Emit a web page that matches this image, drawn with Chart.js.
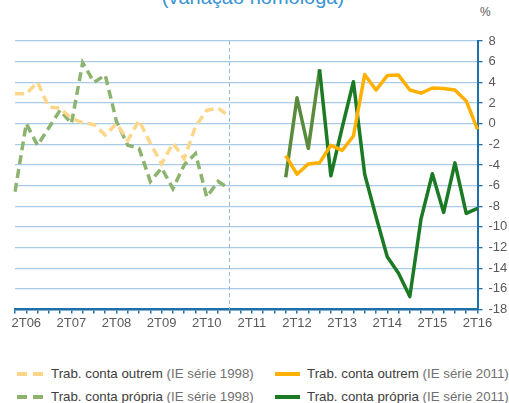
<!DOCTYPE html>
<html>
<head>
<meta charset="utf-8">
<script src="https://cdn.jsdelivr.net/npm/chart.js@4.4.0/dist/chart.umd.min.js"></script>
<style>
  body { margin: 0; width: 509px; height: 403px; overflow: hidden; background: #fff; position: relative;
         font-family: "Liberation Sans", Arial, sans-serif; }
  #title { position: absolute; top: -13px; left: 0; width: 506px; text-align: center;
           font-size: 20px; line-height: 20px; color: #3a94d2; }
  #unit { position: absolute; left: 480px; top: 5px; font-size: 12px; color: #595959; }
  #wrap { position: absolute; left: 0; top: 0; width: 509px; height: 340px; }
  .leg { position: absolute; display: flex; align-items: center; font-size: 13.3px; line-height: 16px; white-space: nowrap; }
  .leg .sym { display: inline-block; height: 4px; margin-right: 8px; }
  .leg .name { color: #3d3d3d; }
  .leg .note { color: #707070; }
</style>
</head>
<body>
<div id="title">(variação homóloga)</div>
<div id="unit">%</div>
<div id="wrap"><canvas id="chart"></canvas></div>
<div id="legend"></div>

<script>
/* Emprego: trabalhadores por conta de outrem / própria */
const quarters = [
  '1T06','2T06','3T06','4T06','1T07','2T07','3T07','4T07','1T08','2T08','3T08','4T08',
  '1T09','2T09','3T09','4T09','1T10','2T10','3T10','4T10','1T11','2T11','3T11','4T11',
  '1T12','2T12','3T12','4T12','1T13','2T13','3T13','4T13','1T14','2T14','3T14','4T14',
  '1T15','2T15','3T15','4T15','1T16','2T16'
];

// IE série 1998: 1T06 .. 4T10
const start1998 = '1T06';
const outrem1998  = [2.9, 2.9, 4.0, 1.6, 1.5, 0.5, 0.1, -0.1, -1.1, 0.0, -1.6, 0.3, -1.9, -3.9, -1.9, -3.4, -0.3, 1.3, 1.5, 0.7];
const propria1998 = [-6.6, 0.0, -2.1, -0.4, 1.3, 0.0, 5.9, 4.0, 4.7, 0.2, -2.1, -2.4, -5.6, -4.3, -6.3, -4.0, -2.9, -7.1, -5.6, -6.3];

// IE série 2011: 1T12 .. 2T16
const start2011 = '1T12';
const outrem2011  = [-3.1, -4.9, -3.9, -3.8, -2.1, -2.6, -1.2, 4.75, 3.25, 4.65, 4.7, 3.25, 2.95, 3.45, 3.4, 3.25, 2.2, -0.55];
const propria2011 = [-5.2, 2.5, -2.4, 5.25, -5.05, -0.4, 4.05, -4.9, -9.0, -12.9, -14.5, -16.75, -9.2, -4.85, -8.6, -3.8, -8.7, -8.2];

const yTicksMin = -18, yTicksMax = 8, yStep = 2;

const seriesNames = [
  ['Trab. conta outrem', '(IE série 1998)'],
  ['Trab. conta outrem', '(IE série 2011)'],
  ['Trab. conta própria', '(IE série 1998)'],
  ['Trab. conta própria', '(IE série 2011)']
];

const C = {
  outrem98: '#fdd68a', propria98: '#8db46f', outrem11: '#ffb000',
  propria11: '#1c7a24', propria11a: '#5a8a3c',
  grid: '#a9cbe8', axis: '#1f6fa8', text: '#595959'
};

function place(values, startLabel) {
  const s = quarters.indexOf(startLabel);
  return quarters.map((q, i) => (i >= s && i - s < values.length) ? values[i - s] : null);
}

const breakLine = {
  id: 'breakLine',
  beforeDatasetsDraw(chart) {
    const x = chart.scales.x.getPixelForValue(quarters.indexOf(start1998) + outrem1998.length - 1);
    const { top, bottom } = chart.chartArea;
    const ctx = chart.ctx;
    ctx.save();
    ctx.strokeStyle = '#8dbbe3';
    ctx.lineWidth = 1;
    ctx.setLineDash([4, 3]);
    ctx.beginPath();
    ctx.moveTo(Math.round(x) + 0.5, top);
    ctx.lineTo(Math.round(x) + 0.5, bottom);
    ctx.stroke();
    ctx.restore();
  }
};

const dashed = { borderWidth: 3.5, borderDash: [9, 5], pointRadius: 0, tension: 0, spanGaps: false };
const solid = { borderWidth: 3.5, pointRadius: 0, tension: 0, spanGaps: false, borderJoinStyle: 'round' };
const olivePart = quarters.indexOf(start2011) + 3;

new Chart(document.getElementById('chart').getContext('2d'), {
  type: 'line',
  data: {
    labels: quarters,
    datasets: [
      { label: seriesNames[0].join(' '), data: place(outrem1998, start1998), borderColor: C.outrem98, ...dashed },
      { label: seriesNames[2].join(' '), data: place(propria1998, start1998), borderColor: C.propria98, ...dashed },
      { label: seriesNames[1].join(' '), data: place(outrem2011, start2011), borderColor: C.outrem11, ...solid },
      { label: seriesNames[3].join(' '), data: place(propria2011, start2011), borderColor: C.propria11, ...solid,
        segment: { borderColor: c => c.p0DataIndex < olivePart ? C.propria11a : C.propria11 } }
    ]
  },
  options: {
    responsive: true, maintainAspectRatio: false, animation: false,
    layout: { padding: { left: 15, right: 0, top: 41, bottom: 0 } },
    plugins: { legend: { display: false }, tooltip: { enabled: false } },
    scales: {
      x: {
        type: 'category', offset: false,
        afterFit: s => { s.height = 30.5; },
        grid: { drawOnChartArea: false, tickLength: 4, tickColor: C.axis, lineWidth: 1.5 },
        border: { color: C.axis, width: 2.5 },
        ticks: {
          autoSkip: false, maxRotation: 0, padding: 2, color: C.text,
          font: { family: '"Liberation Sans", Arial, sans-serif', size: 13 },
          callback: (v, i) => quarters[i].startsWith('2T') ? quarters[i] : ''
        }
      },
      y: {
        position: 'right', min: yTicksMin, max: yTicksMax,
        afterFit: s => { s.width = 31.5; },
        grid: { color: C.grid, lineWidth: 1.3, tickColor: C.axis, tickLength: 5 },
        border: { color: C.axis, width: 2 },
        ticks: {
          stepSize: yStep, padding: 6, color: C.text,
          font: { family: '"Liberation Sans", Arial, sans-serif', size: 13 }
        }
      }
    }
  },
  plugins: [breakLine]
});

function renderLegend() {
  const items = [
    { name: seriesNames[0], color: C.outrem98, dash: true, left: 17, top: 366 },
    { name: seriesNames[1], color: C.outrem11, dash: false, left: 275, top: 366 },
    { name: seriesNames[2], color: C.propria98, dash: true, left: 17, top: 389 },
    { name: seriesNames[3], color: C.propria11, dash: false, left: 275, top: 389 }
  ];
  document.getElementById('legend').innerHTML = items.map(it => {
    const bg = it.dash
      ? `linear-gradient(to right, ${it.color} 0 10px, transparent 10px 16px, ${it.color} 16px 26px)`
      : it.color;
    return `
      <div class="leg" style="left:${it.left}px;top:${it.top}px">
        <span class="sym" style="width:${it.dash ? 26 : 25}px;background:${bg};margin-right:${it.dash ? 8 : 7}px"></span>
        <span class="name">${it.name[0]}</span>&nbsp;<span class="note">${it.name[1]}</span>
      </div>`;
  }).join('');
}
renderLegend();
</script>
</body>
</html>
